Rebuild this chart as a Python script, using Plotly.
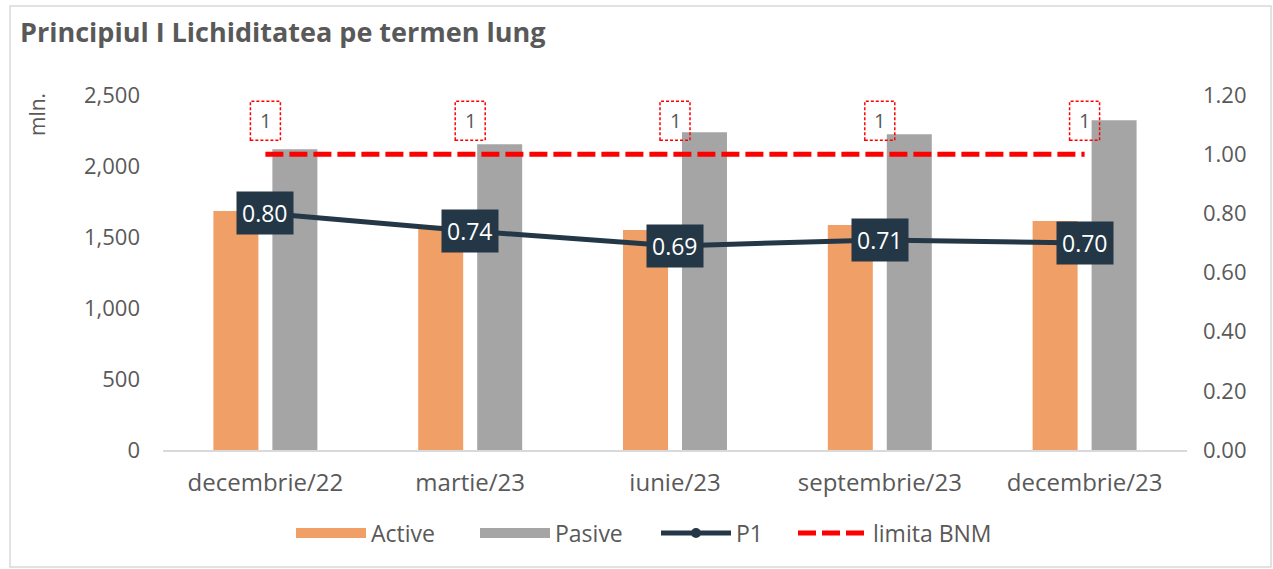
import plotly.graph_objects as go

categories = ["decembrie/22", "martie/23", "iunie/23", "septembrie/23", "decembrie/23"]
active = [1683, 1580, 1550, 1585, 1613]
pasive = [2118, 2153, 2238, 2224, 2322]
p1 = [0.80, 0.74, 0.69, 0.71, 0.70]
limita = [1, 1, 1, 1, 1]

W, H = 1273, 569
ML, MR, MT, MB = 163, 86, 95, 119
PW, PH = W - ML - MR, H - MT - MB

FONT = "Open Sans"
GREY_TXT = "#595959"
NAVY = "#243746"
ORANGE = "#F09F67"
GREY_BAR = "#A5A5A5"

fig = go.Figure()
fig.add_trace(go.Bar(x=categories, y=active, name="Active", marker_color=ORANGE,
                     marker_line_width=0, showlegend=False))
fig.add_trace(go.Bar(x=categories, y=pasive, name="Pasive", marker_color=GREY_BAR,
                     marker_line_width=0, showlegend=False))
# legend swatches for the bars (wide rectangles as in the original)
fig.add_trace(go.Scatter(x=[None], y=[None], name="Active", mode="lines",
                         line=dict(color=ORANGE, width=13), legend="legend"))
fig.add_trace(go.Scatter(x=[None], y=[None], name="Pasive", mode="lines",
                         line=dict(color=GREY_BAR, width=13), legend="legend2"))
fig.add_trace(go.Scatter(x=categories, y=p1, name="P1", yaxis="y2", mode="lines+markers",
                         line=dict(color=NAVY, width=5), marker=dict(color=NAVY, size=10),
                         legend="legend3"))
fig.add_trace(go.Scatter(x=categories, y=limita, name="limita BNM", yaxis="y2", mode="lines",
                         line=dict(color="#FF0000", width=5, dash="18px,6px"),
                         legend="legend4"))

annotations = []
shapes = []
for c, v in zip(categories, p1):
    annotations.append(dict(x=c, y=v, xref="x", yref="y2", text=f"{v:.2f}", showarrow=False,
                            font=dict(family=FONT, size=23, color="white"),
                            bgcolor=NAVY, borderpad=5))
for c, v in zip(categories, limita):
    annotations.append(dict(x=c, y=v, xref="x", yref="y2", text=f"{v:g}", showarrow=False,
                            yshift=34, font=dict(family=FONT, size=20, color=GREY_TXT)))
    shapes.append(dict(type="rect", xref="x", yref="y2", xsizemode="pixel", ysizemode="pixel",
                       xanchor=c, yanchor=v, x0=-15, x1=15, y0=14, y1=53,
                       line=dict(color="#FF0000", width=1.5, dash="3px,2px")))

# outer frame
shapes.append(dict(type="rect", xref="paper", yref="paper",
                   x0=(10 - ML) / PW, x1=(W - 2 - ML) / PW,
                   y0=-(H - 2 - MT - PH) / PH, y1=(H - MB - 6) / PH,
                   line=dict(color="#D9D9D9", width=1.5), layer="below"))

annotations.append(dict(x=(37 - ML) / PW, y=(H - MB - 115) / PH, xref="paper", yref="paper",
                        xanchor="center", yanchor="middle",
                        text="mln.", textangle=-90, showarrow=False,
                        font=dict(family=FONT, size=21, color=GREY_TXT)))


def legend_at(px_left):
    return dict(orientation="h", x=(px_left - ML) / PW, xanchor="left",
                y=(H - MB - 533) / PH, yanchor="middle",
                font=dict(family=FONT, size=23, color=GREY_TXT),
                itemwidth=70, bgcolor="rgba(0,0,0,0)")


fig.update_layout(
    width=W, height=H,
    margin=dict(l=ML, r=MR, t=MT, b=MB),
    paper_bgcolor="white", plot_bgcolor="white",
    title=dict(text="<b>Principiul I Lichiditatea pe termen lung</b>", x=20 / W, xanchor="left",
               y=1 - 33 / H, yanchor="middle",
               font=dict(family=FONT, size=27, color=GREY_TXT)),
    barmode="group", bargap=0.424, bargroupgap=0.237,
    font=dict(family=FONT, size=22, color=GREY_TXT),
    xaxis=dict(showline=True, linecolor="#D9D9D9", linewidth=1.5, showgrid=False,
               tickfont=dict(size=24, color=GREY_TXT), ticks="", ticklabelstandoff=10),
    yaxis=dict(range=[0, 2500], tickvals=[0, 500, 1000, 1500, 2000, 2500],
               tickformat=",d", showgrid=False, zeroline=False, showline=False,
               ticklabelstandoff=22, tickfont=dict(size=22, color=GREY_TXT)),
    yaxis2=dict(range=[0, 1.2], tickvals=[0, 0.2, 0.4, 0.6, 0.8, 1.0, 1.2], tickformat=".2f",
                overlaying="y", side="right", showgrid=False, zeroline=False, showline=False,
                ticklabelstandoff=15, tickfont=dict(size=22, color=GREY_TXT)),
    legend=legend_at(291),
    legend2=legend_at(475),
    legend3=legend_at(656),
    legend4=legend_at(793),
    annotations=annotations, shapes=shapes,
)

fig.write_html("out.html", config={"displayModeBar": False},
               post_script="document.body.style.margin='0';")
